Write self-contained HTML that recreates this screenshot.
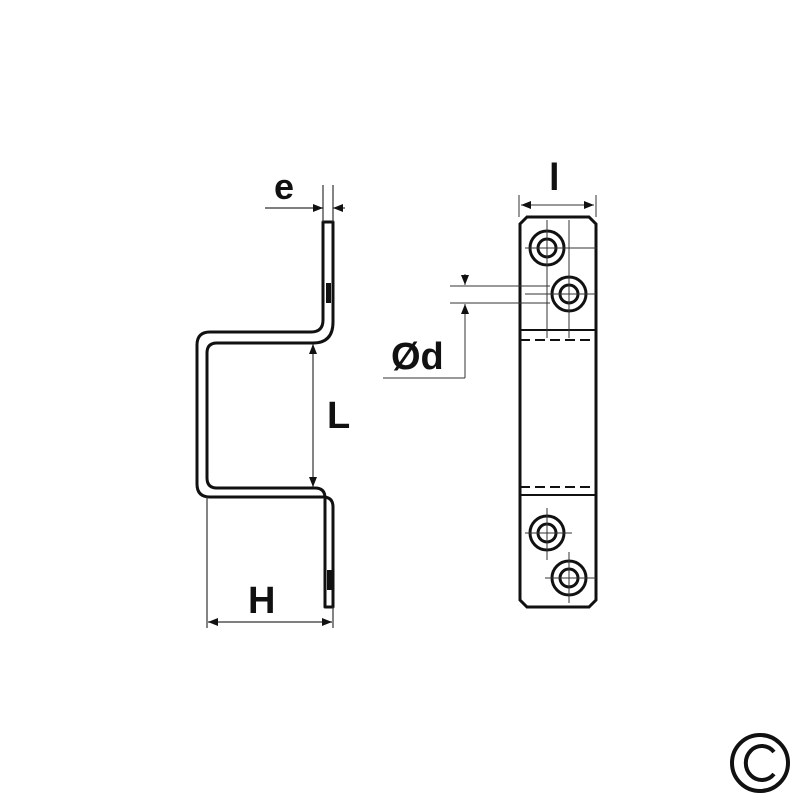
<!DOCTYPE html>
<html><head><style>html,body{margin:0;padding:0;background:#fff;width:800px;height:800px;overflow:hidden}</style></head>
<body>
<svg width="800" height="800" viewBox="0 0 800 800" xmlns="http://www.w3.org/2000/svg">
<defs>
<marker id="a" markerWidth="10" markerHeight="8" refX="10" refY="4" orient="auto" markerUnits="userSpaceOnUse"><path d="M0,0 L10,4 L0,8 Z" fill="#111"/></marker>
</defs>
<path d="M323,222 L333,222 L333,322 Q333,343 313,343 L217,343 Q207,343 207,353 L207,478 Q207,488 217,488 L315,488 Q325,488 325,498 L325,607 L333,607 L333,507 Q333,497 323,497 L210,497 Q197,497 197,484 L197,345 Q197,332 210,332 L311,332 Q323,332 323,320 Z" fill="none" stroke="#111" stroke-width="3" stroke-linejoin="round"/>
<g fill="#111">
<rect x="326" y="283" width="5" height="20"/>
<rect x="327" y="570" width="5" height="20"/>
</g>
<g stroke="#333" stroke-width="1.2" fill="none">
<line x1="323" y1="185" x2="323" y2="222"/>
<line x1="333" y1="185" x2="333" y2="222"/>
<line x1="265" y1="208" x2="323" y2="208" marker-end="url(#a)"/>
<line x1="345" y1="208" x2="333" y2="208" marker-end="url(#a)"/>
<line x1="313" y1="415" x2="313" y2="344" marker-end="url(#a)"/>
<line x1="313" y1="415" x2="313" y2="487" marker-end="url(#a)"/>
<line x1="207" y1="497" x2="207" y2="628"/>
<line x1="333" y1="607" x2="333" y2="628"/>
<line x1="270" y1="622" x2="208" y2="622" marker-end="url(#a)"/>
<line x1="270" y1="622" x2="332" y2="622" marker-end="url(#a)"/>
</g>
<g font-family="Liberation Sans, sans-serif" font-weight="bold" fill="#111">
<text x="274" y="199" font-size="36">e</text>
<text x="327" y="428" font-size="38">L</text>
<text x="248" y="613" font-size="38">H</text>
<text x="549" y="190" font-size="38">l</text>
<text x="391" y="369" font-size="38">Ød</text>
</g>
<g fill="none" stroke="#111" stroke-width="3">
<path d="M527,217 L589,217 L596,224 L596,600 L589,607 L527,607 L520,600 L520,224 Z"/>
<line x1="520" y1="330" x2="596" y2="330" stroke-width="2"/>
<line x1="520" y1="340" x2="596" y2="340" stroke-width="2" stroke-dasharray="10,5"/>
<line x1="520" y1="487" x2="596" y2="487" stroke-width="2" stroke-dasharray="10,5"/>
<line x1="520" y1="495" x2="596" y2="495" stroke-width="2"/>
<circle cx="547" cy="248" r="17"/><circle cx="547" cy="248" r="9"/>
<circle cx="569" cy="294" r="17"/><circle cx="569" cy="294" r="9"/>
<circle cx="547" cy="533" r="17"/><circle cx="547" cy="533" r="9"/>
<circle cx="569" cy="578" r="17"/><circle cx="569" cy="578" r="9"/>
</g>
<g stroke="#333" stroke-width="1" fill="none">
<line x1="547" y1="220" x2="547" y2="338"/>
<line x1="569" y1="220" x2="569" y2="338"/>
<line x1="525" y1="248" x2="596" y2="248"/>
<line x1="525" y1="294" x2="596" y2="294"/>
<line x1="547" y1="508" x2="547" y2="560"/>
<line x1="525" y1="533" x2="572" y2="533"/>
<line x1="569" y1="552" x2="569" y2="603"/>
<line x1="545" y1="578" x2="596" y2="578"/>
<line x1="519" y1="195" x2="519" y2="217"/>
<line x1="596" y1="195" x2="596" y2="217"/>
<line x1="558" y1="205" x2="521" y2="205" marker-end="url(#a)"/>
<line x1="558" y1="205" x2="594" y2="205" marker-end="url(#a)"/>
<line x1="450" y1="286" x2="550" y2="286"/>
<line x1="450" y1="303" x2="550" y2="303"/>
<line x1="465" y1="274" x2="465" y2="285" marker-end="url(#a)"/>
<line x1="465" y1="378" x2="465" y2="304" marker-end="url(#a)"/>
<line x1="383" y1="378" x2="465" y2="378"/>
</g>
<circle cx="760" cy="763" r="28" fill="none" stroke="#111" stroke-width="4"/>
<path d="M774,752 A16,17 0 1 0 774,774" fill="none" stroke="#111" stroke-width="4"/>
</svg>
</body></html>
